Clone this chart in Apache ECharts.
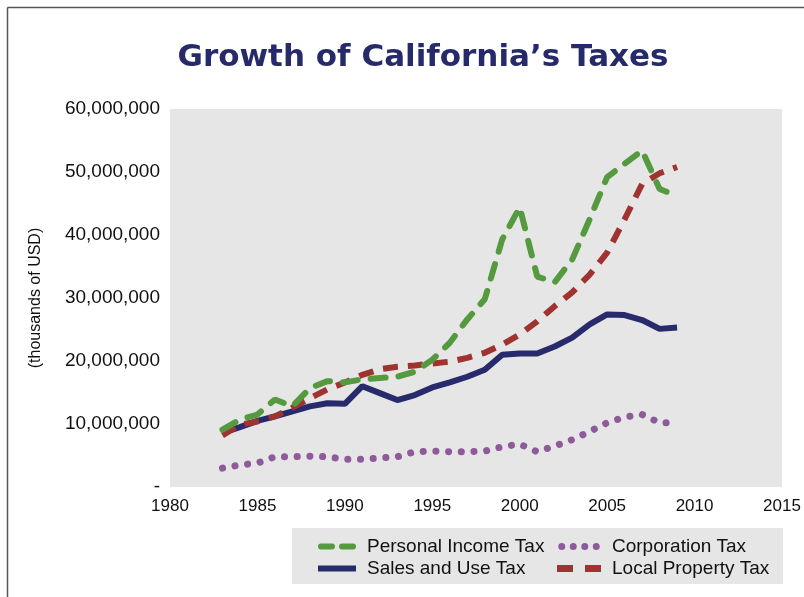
<!DOCTYPE html>
<html><head><meta charset="utf-8">
<script src="https://cdn.jsdelivr.net/npm/echarts@6/dist/echarts.min.js"></script>
<style>html,body{margin:0;padding:0;background:#fff}#c{width:804px;height:597px}</style>
</head><body><div id="c"></div>
<script>
const years = [1983,1984,1985,1986,1987,1988,1989,1990,1991,1992,1993,1994,1995,1996,1997,1998,1999,2000,2001,2002,2003,2004,2005,2006,2007,2008,2009];
const personalIncome = [9.1,10.7,11.5,13.9,12.8,15.7,16.8,16.6,17.1,17.3,17.5,18.3,20.2,22.9,26.6,29.8,39.3,44.4,33.4,32.5,36.1,42.5,49.2,51.3,53.4,47.3,46.2];
const salesUse = [8.6,9.5,10.5,11.2,12.0,12.8,13.3,13.2,16.0,14.9,13.8,14.6,15.8,16.6,17.5,18.6,21.0,21.2,21.2,22.3,23.7,25.8,27.4,27.3,26.5,25.1,25.3];
const corporation = [3.0,3.5,3.8,4.8,4.8,4.9,4.8,4.4,4.4,4.6,4.8,5.6,5.7,5.6,5.6,5.7,6.4,6.8,5.6,6.5,7.5,8.8,10.2,11.1,11.5,10.2,10.2];
const localProperty = [8.2,9.9,10.4,11.2,12.6,14.1,15.5,16.6,17.8,18.7,19.1,19.3,19.6,19.9,20.5,21.3,22.6,24.2,26.3,28.7,30.9,33.7,37.2,42.5,48.1,49.8,50.8];
const xTicks = [1980,1985,1990,1995,2000,2005,2010,2015];
const M = 1000000;
const pairs = arr => years.map((y,i)=>[y, Math.round(arr[i]*M)]);

const iconGreen = 'path://M3,0h11a3,3 0 0 1 0,6h-11a3,3 0 0 1 0,-6z M24,0h11a3,3 0 0 1 0,6h-11a3,3 0 0 1 0,-6z';
const iconPurple = 'path://M3.5,0a3.5,3.5 0 1 1 0,7a3.5,3.5 0 1 1 0,-7z M15,0a3.5,3.5 0 1 1 0,7a3.5,3.5 0 1 1 0,-7z M26.5,0a3.5,3.5 0 1 1 0,7a3.5,3.5 0 1 1 0,-7z M38,0a3.5,3.5 0 1 1 0,7a3.5,3.5 0 1 1 0,-7z';
const iconRed = 'path://M0,0h16v7h-16z M28,0h16v7h-16z';

const chart = echarts.init(document.getElementById('c'), null, {renderer:'canvas'});
const fontFam = '"Liberation Sans", Arial, sans-serif';
chart.setOption({
  animation:false,
  backgroundColor:'#ffffff',
  title:{text:'Growth of California\u2019s Taxes', left:418, top:37, textAlign:'center',
    textStyle:{fontFamily:'"DejaVu Sans", sans-serif', fontSize:31, fontWeight:'bold', color:'#262A6A'}},
  grid:{left:170, right:22, top:109, bottom:110, show:true, backgroundColor:'#E6E6E6', borderWidth:0},
  xAxis:{type:'value', min:xTicks[0], max:xTicks[xTicks.length-1], interval:5,
    axisLine:{show:false}, axisTick:{show:false}, splitLine:{show:false},
    axisLabel:{fontFamily:fontFam, fontSize:17, color:'#111', margin:11, formatter:v=>String(v)}},
  yAxis:{type:'value', min:0, max:60*M, interval:10*M,
    name:'(thousands of USD)', nameLocation:'middle', nameGap:126, nameRotate:90,
    nameTextStyle:{fontFamily:fontFam, fontSize:16, color:'#111'},
    axisLine:{show:false}, axisTick:{show:false}, splitLine:{show:false},
    axisLabel:{fontFamily:fontFam, fontSize:19, color:'#111', margin:10,
      formatter:v=> v===0 ? '-' : v.toLocaleString('en-US')}},
  graphic:[
    {type:'line', shape:{x1:7.5,y1:7.5,x2:804,y2:7.5}, style:{stroke:'#555',lineWidth:1.5}, z:100},
    {type:'line', shape:{x1:7.5,y1:7.5,x2:7.5,y2:597}, style:{stroke:'#555',lineWidth:1.5}, z:100},
    {type:'rect', shape:{x:292,y:528,width:491,height:56}, style:{fill:'#E6E6E6'}, z:-1}
  ],
  legend:[
    {data:[{name:'Personal Income Tax', icon:iconGreen},{name:'Sales and Use Tax', icon:'rect'}],
      orient:'vertical', left:318, top:537, padding:0,
      itemWidth:38, itemHeight:6, itemGap:3, textStyle:{fontFamily:fontFam, fontSize:19, color:'#111', padding:[0,0,0,6]}},
    {data:[{name:'Corporation Tax', icon:iconPurple},{name:'Local Property Tax', icon:iconRed}],
      orient:'vertical', left:557, top:537, padding:0,
      itemWidth:44, itemHeight:7, itemGap:3, textStyle:{fontFamily:fontFam, fontSize:19, color:'#111', padding:[0,0,0,6]}}
  ],
  series:[
    {name:'Personal Income Tax', type:'line', symbol:'none', data:pairs(personalIncome), z:4,
      lineStyle:{color:'#559A3F', width:6, type:[15,13], cap:'round'}, itemStyle:{color:'#559A3F'}},
    {name:'Sales and Use Tax', type:'line', symbol:'none', data:pairs(salesUse), z:3,
      lineStyle:{color:'#272A6B', width:6, type:'solid'}, itemStyle:{color:'#272A6B'}},
    {name:'Corporation Tax', type:'line', symbol:'none', data:pairs(corporation), z:3,
      lineStyle:{color:'#8E5A9A', width:7, type:[0.1,12.6], cap:'round'}, itemStyle:{color:'#8E5A9A'}},
    {name:'Local Property Tax', type:'line', symbol:'none', data:pairs(localProperty), z:3,
      lineStyle:{color:'#A0332F', width:6, type:[15,10], cap:'butt'}, itemStyle:{color:'#A0332F'}}
  ]
});
</script></body></html>
